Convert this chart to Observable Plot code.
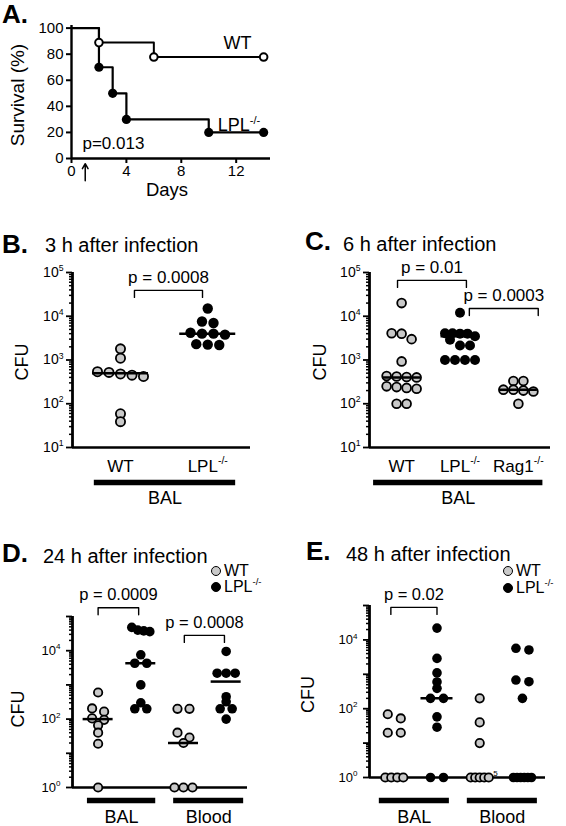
<!DOCTYPE html>
<html><head><meta charset="utf-8">
<script src="https://cdn.jsdelivr.net/npm/d3@7"></script>
<script src="https://cdn.jsdelivr.net/npm/@observablehq/plot@0.6"></script>
<style>
body{margin:0;background:#fff;font-family:"Liberation Sans",Arial,Helvetica,sans-serif;}
#fig{position:relative;width:566px;height:826px;overflow:hidden;background:#fff}
.abs{position:absolute;white-space:nowrap;line-height:1;color:#000}
.letter{font-weight:bold;font-size:26px}
.title{font-size:20px}
.leg{font-size:16px}
.dotc{position:absolute;width:10px;height:10px;border-radius:50%;box-sizing:border-box;border:1.8px solid #000}
sup{font-size:0.6em;vertical-align:0.7em;line-height:0}
</style></head><body><div id="fig"></div>
<script>
// ---------- DATA ----------
// A: survival
const aDaysWT = [0, 2, 6, 14];
const aSurvWT = [100, 88.9, 77.8, 77.8];
const aDaysLPL = [0, 2, 3, 4, 10, 14];
const aSurvLPL = [100, 70, 50, 30, 20, 20];
const aXTicks = [0, 4, 8, 12];
const aYTicks = [0, 20, 40, 60, 80, 100];

// B: 3 h after infection (CFU)
const bCats = ["WT", "LPL^-/-"];
const bWT = [1800, 1100, 540, 520, 480, 450, 420, 59, 39];
const bLPL = [15000, 7600, 7000, 4200, 4000, 4000, 3800, 2300, 2250, 2200];
const bMedians = [500, 4000];
const bBrackets = [{x1: 0.16, x2: 0.94, y: 39000, label: "p = 0.0008"}];

// C: 6 h after infection (CFU)
const cCats = ["WT", "LPL^-/-", "Rag1^-/-"];
const cWT = [20000, 4100, 4000, 3000, 930, 430, 420, 410, 400, 250, 240, 230, 220, 100, 100];
const cLPL = [12000, 4100, 4100, 4000, 4000, 3500, 2900, 2150, 2150, 1000, 1000, 1000, 1000];
const cRag1 = [330, 330, 210, 210, 200, 190, 100];
const cMedians = [400, 3500, 210];
const cBrackets = [
  {x1: -0.07, x2: 1.11, y: 66000, label: "p = 0.01"},
  {x1: 1.16, x2: 2.34, y: 15000, label: "p = 0.0003"}
];

// D: 24 h after infection (CFU; 0 = not detected)
const dBALWT = [600, 205, 165, 105, 95, 66, 40, 19, 0];
const dBALLPL = [48000, 40000, 38000, 36000, 7600, 4300, 4300, 1000, 300, 200, 200];
const dBloodWT = [200, 200, 40, 29, 20, 0, 0, 0];
const dBloodLPL = [9500, 2200, 2200, 2200, 450, 320, 200, 200, 100];
const dMedians = [100, 4300, 20, 1250];
const dBrackets = [
  {x1: 0, x2: 0.95, y: 180000, label: "p = 0.0009"},
  {x1: 2.02, x2: 2.96, y: 28000, label: "p = 0.0008"}
];

// E: 48 h after infection (CFU; 0 = not detected)
const eBALWT = [69, 52, 20, 20, 0, 0, 0, 0];
const eBALLPL = [22000, 2900, 1100, 600, 390, 200, 200, 58, 29, 0, 0];
const eBloodWT = [200, 40, 10, 0, 0, 0, 0, 0];
const eBloodLPL = [5700, 5100, 680, 610, 200, 0, 0, 0, 0, 0, 0];
const eMedians = [0, 200, 0, 0];
const eBrackets = [{x1: -0.08, x2: 1.0, y: 88000, label: "p = 0.02"}];

const groupLabels = ["BAL", "Blood"];

// ---------- RENDERING ----------
const FONT = '"Liberation Sans", Arial, Helvetica, sans-serif';
const GRAY = "#c9c9c9";
const fig = document.getElementById("fig");

function place(svg, left, top, width) {
  const d = document.createElement("div");
  d.style.cssText = `position:absolute;left:${left}px;top:${top}px;width:${width}px`;
  d.append(svg);
  fig.append(d);
  supify(svg);
}
function supify(svg) {
  d3.select(svg).selectAll("text").each(function () {
    const t = this.textContent;
    const i = t.indexOf("^");
    if (i < 0) return;
    const fs = parseFloat(getComputedStyle(this).fontSize) || 14;
    const el = d3.select(this);
    el.text(t.slice(0, i));
    el.append("tspan").attr("dy", -0.42 * fs).attr("font-size", 0.62 * fs).text(t.slice(i + 1));
  });
}
const style = {fontFamily: FONT, fontSize: "14px", color: "black", background: "transparent", overflow: "visible"};

// ----- Panel A -----
const wtLine = aDaysWT.map((d, i) => ({x: d, y: aSurvWT[i]}));
const lplLine = aDaysLPL.map((d, i) => ({x: d, y: aSurvLPL[i]}));
const plotA = Plot.plot({
  width: 283, height: 210, marginLeft: 71, marginRight: 13, marginTop: 25, marginBottom: 52,
  x: {domain: [0, 14.5]}, y: {domain: [0, 102]}, style,
  marks: [
    Plot.axisY({ticks: aYTicks, tickSize: 5, tickPadding: 3, fontSize: 15, strokeWidth: 2, label: null}),
    Plot.axisX({ticks: aXTicks, tickSize: 5, tickPadding: 2, fontSize: 15, strokeWidth: 2, label: null}),
    Plot.ruleX([0], {strokeWidth: 2.4}),
    Plot.ruleY([0], {strokeWidth: 2.4}),
    Plot.line(wtLine, {x: "x", y: "y", curve: "step-after", strokeWidth: 2}),
    Plot.line(lplLine, {x: "x", y: "y", curve: "step-after", strokeWidth: 2.2}),
    Plot.dot(wtLine.slice(1), {x: "x", y: "y", r: 3.8, fill: "white", stroke: "black", strokeWidth: 2}),
    Plot.dot(lplLine.slice(1), {x: "x", y: "y", r: 4.6, fill: "black"}),
    Plot.text(["WT"], {x: 12.1, y: 88.2, text: d => d, fontSize: 18}),
    Plot.text(["LPL^-/-"], {x: 12.2, y: 25.3, text: d => d, fontSize: 18}),
    Plot.text(["p=0.013"], {x: 0.8, y: 11.5, text: d => d, textAnchor: "start", fontSize: 17}),
    Plot.arrow([1], {x1: 1, x2: 1, y1: -17, y2: -4, strokeWidth: 1.5, headLength: 7}),
    Plot.text(["Days"], {text: d => d, frameAnchor: "bottom", textAnchor: "middle", dy: 37, dx: -4, fontSize: 18.5}),
    Plot.text(["Survival (%)"], {text: d => d, frameAnchor: "left", textAnchor: "middle", rotate: -90, dx: -54, dy: 3, fontSize: 19})
  ]
});
place(plotA, 0, 0, 283);

// ----- scatter panels -----
function swarm(g, c, k, yPx) {
  const pts = g.values.map(v => {
    const pv = Math.max(v, c.yDomain[0]);
    return {pv, py: yPx(pv)};
  }).sort((a, b) => a.py - b.py);
  const rows = [];
  for (const p of pts) {
    const row = rows[rows.length - 1];
    if (row && p.py - row[0].py <= c.thr) row.push(p); else rows.push([p]);
  }
  const out = [];
  for (const row of rows) {
    const n = row.length;
    const step = n > 1 ? Math.min(c.s, c.maxW / (n - 1)) : 0;
    row.forEach((p, i) => out.push({x: g.cat + (i - (n - 1) / 2) * step / k, y: p.pv, type: g.type}));
  }
  return out;
}

function makeScatter(c) {
  const k = (c.width - c.ml - c.mr) / (c.xDomain[1] - c.xDomain[0]);
  const yPx = d3.scaleLog().domain(c.yDomain).range([c.height - c.mb, c.mt]);
  const pxPerDecade = (c.height - c.mt - c.mb) / Math.log10(c.yDomain[1] / c.yDomain[0]);
  const pts = c.groups.flatMap(g => swarm(g, c, k, yPx));
  const e0 = Math.round(Math.log10(c.yDomain[0])), e1 = Math.round(Math.log10(c.yDomain[1]));
  const majors = d3.range(e0, e1 + 1).map(e => 10 ** e);
  const minors = d3.range(e0, e1).flatMap(e => d3.range(2, 10).map(m => m * 10 ** e));
  const bracketPaths = c.brackets.flatMap((b, i) => {
    const low = b.y / 10 ** (7 / pxPerDecade);
    return [[b.x1, low], [b.x1, b.y], [b.x2, b.y], [b.x2, low]].map(([x, y]) => ({x, y, id: i}));
  });
  const meds = c.medians.map((v, i) => ({cat: c.medCats[i], value: v})).filter(m => m.value > 0);
  const marks = [
    Plot.axisY({ticks: minors, tickSize: 3, tickFormat: () => "", strokeWidth: 1.5, label: null}),
    Plot.axisY({ticks: majors, tickSize: 6, tickPadding: c.tickPad, fontSize: c.tickFont, strokeWidth: 1.8, label: null,
      tickFormat: d => { const e = Math.round(Math.log10(d)); return c.labeledExps.includes(e) ? "10^" + e : ""; }}),
    Plot.ruleX([c.xDomain[0]], {strokeWidth: 2.8}),
    Plot.ruleY([c.yDomain[0]], {strokeWidth: 2.4}),
    Plot.dot(pts.filter(p => p.type === "wt"), {x: "x", y: "y", r: c.r, fill: GRAY, stroke: "black", strokeWidth: 1.8}),
    Plot.dot(pts.filter(p => p.type === "ko"), {x: "x", y: "y", r: c.r + 0.6, fill: "black"}),
    Plot.ruleY(meds, {x1: m => m.cat - c.medHalf / k, x2: m => m.cat + c.medHalf / k, y: "value", strokeWidth: 2.5}),
    Plot.line(bracketPaths, {x: "x", y: "y", z: "id", strokeWidth: 1.4}),
    Plot.text(c.brackets, {x: b => (b.x1 + b.x2) / 2, y: "y", text: "label", dy: -13, fontSize: c.pFont}),
    Plot.ruleY(c.bars, {x1: "x1", x2: "x2", y: () => c.yDomain[0], dy: c.barDy, strokeWidth: 5.5}),
    Plot.text(c.bars, {x: b => (b.x1 + b.x2) / 2, y: () => c.yDomain[0], text: "label", dy: c.barLabelDy, fontSize: 18}),
    Plot.text(["CFU"], {text: d => d, frameAnchor: "left", textAnchor: "middle", rotate: -90, dx: c.cfuX - c.ml, dy: c.cfuDy, fontSize: 18}),
    ...(c.extra || [])
  ];
  if (c.catLabels) marks.push(Plot.axisX({ticks: d3.range(c.catLabels.length), tickFormat: i => c.catLabels[i],
    tickSize: 0, tickPadding: c.catPad, fontSize: 17, label: null}));
  return Plot.plot({
    width: c.width, height: c.height, marginLeft: c.ml, marginRight: c.mr, marginTop: c.mt, marginBottom: c.mb,
    x: {domain: c.xDomain, axis: c.catLabels ? undefined : null},
    y: {type: "log", domain: c.yDomain},
    style, marks
  });
}

// B
place(makeScatter({
  width: 283, height: 290, ml: 72, mr: 33, mt: 52, mb: 63,
  xDomain: [-0.55, 1.49], yDomain: [10, 1e5],
  groups: [{cat: 0, values: bWT, type: "wt"}, {cat: 1, values: bLPL, type: "ko"}],
  medians: bMedians, medCats: [0, 1], medHalf: 28, brackets: bBrackets,
  catLabels: bCats, catPad: 12, bars: [{x1: -0.30, x2: 1.32, label: groupLabels[0]}], barDy: 35, barLabelDy: 51,
  labeledExps: [1, 2, 3, 4, 5], tickFont: 14, tickPad: 3, r: 4.6, s: 11.5, maxW: 48, thr: 5.5,
  cfuX: 22, cfuDy: 2, pFont: 17
}), 0, 220, 283);

// C
place(makeScatter({
  width: 283, height: 290, ml: 86, mr: 16, mt: 52, mb: 63,
  xDomain: [-0.55, 2.55], yDomain: [10, 1e5],
  groups: [{cat: 0, values: cWT, type: "wt"}, {cat: 1, values: cLPL, type: "ko"}, {cat: 2, values: cRag1, type: "wt"}],
  medians: cMedians, medCats: [0, 1, 2], medHalf: 19, brackets: cBrackets,
  catLabels: cCats, catPad: 12, bars: [{x1: -0.48, x2: 2.42, label: groupLabels[0]}], barDy: 35, barLabelDy: 51,
  labeledExps: [1, 2, 3, 4, 5], tickFont: 14, tickPad: 3, r: 4.4, s: 10, maxW: 30, thr: 6,
  cfuX: 37, cfuDy: 2, pFont: 17
}), 283, 220, 283);

// D
place(makeScatter({
  width: 283, height: 286, ml: 72, mr: 36, mt: 76, mb: 39,
  xDomain: [-0.6, 3.5], yDomain: [1, 1e5],
  groups: [{cat: 0, values: dBALWT, type: "wt"}, {cat: 1, values: dBALLPL, type: "ko"},
           {cat: 2, values: dBloodWT, type: "wt"}, {cat: 3, values: dBloodLPL, type: "ko"}],
  medians: dMedians, medCats: [0, 1, 2, 3], medHalf: 15, brackets: dBrackets,
  catLabels: null, bars: [{x1: -0.25, x2: 1.35, label: groupLabels[0]}, {x1: 1.77, x2: 3.41, label: groupLabels[1]}],
  barDy: 13, barLabelDy: 30,
  labeledExps: [0, 2, 4], tickFont: 13, tickPad: 6, r: 4.2, s: 12, maxW: 18, thr: 5,
  cfuX: 18, cfuDy: 7, pFont: 16.5
}), 0, 540, 283);

// E
place(makeScatter({
  width: 283, height: 286, ml: 86, mr: 21, mt: 65, mb: 49,
  xDomain: [-0.58, 3.54], yDomain: [1, 1e5],
  groups: [{cat: 0, values: eBALWT, type: "wt"}, {cat: 1, values: eBALLPL, type: "ko"},
           {cat: 2, values: eBloodWT, type: "wt"}, {cat: 3, values: eBloodLPL, type: "ko"}],
  medians: eMedians, medCats: [0, 1, 2, 3], medHalf: 16, brackets: eBrackets,
  catLabels: null, bars: [{x1: -0.35, x2: 1.29, label: groupLabels[0]}, {x1: 1.71, x2: 3.35, label: groupLabels[1]}],
  barDy: 23, barLabelDy: 40,
  labeledExps: [0, 2, 4], tickFont: 13, tickPad: 6, r: 4.2, s: 13, maxW: 18, thr: 5,
  cfuX: 25, cfuDy: 3, pFont: 16.5,
  extra: [Plot.text(["5"], {x: 2.37, y: 1, text: d => d, dy: -4, fontSize: 8})]
}), 283, 540, 283);

// ----- titles & legends (HTML) -----
function addText(html, cls, left, centerY, fs) {
  const d = document.createElement("div");
  d.className = "abs " + cls;
  d.style.left = left + "px";
  d.style.top = (centerY - 0.49 * fs) + "px";
  d.innerHTML = html;
  fig.append(d);
}
addText("A.", "letter", 2, 14, 26);
addText("B.", "letter", 2, 244, 26);
addText("3 h after infection", "title", 45, 245, 20);
addText("C.", "letter", 305, 241, 26);
addText("6 h after infection", "title", 343, 244, 20);
addText("D.", "letter", 2, 553, 26);
addText("24 h after infection", "title", 43, 556, 20);
addText("E.", "letter", 306, 551, 26);
addText("48 h after infection", "title", 346, 554, 20);

function legend(cx, y1, y2) {
  for (const [y, fill, label] of [[y1, GRAY, "WT"], [y2, "#000", "LPL<sup>-/-</sup>"]]) {
    const c = document.createElement("div");
    c.className = "dotc";
    c.style.left = (cx - 5) + "px"; c.style.top = (y - 5) + "px"; c.style.background = fill;
    fig.append(c);
    addText(label, "leg", cx + 8, y, 16);
  }
}
legend(216, 571, 587);
legend(508, 571, 588);
</script></body></html>
